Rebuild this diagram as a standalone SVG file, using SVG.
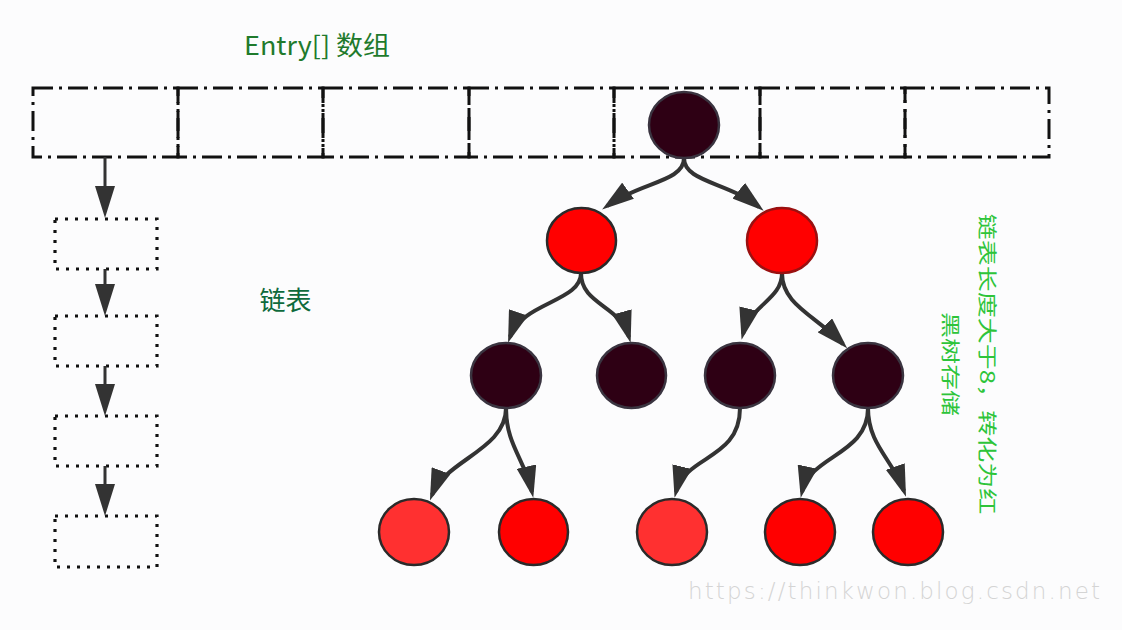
<svg xmlns="http://www.w3.org/2000/svg" width="1122" height="630" viewBox="0 0 1122 630">
<style>
.arr{fill:none;stroke:#111;stroke-width:3;stroke-dasharray:20 6 3 6}
.dot{fill:none;stroke:#111;stroke-width:3.2;stroke-dasharray:3 7}
.dark{fill:#2e0014;stroke:#3a3440;stroke-width:2.5}
.red{fill:#ff0000;stroke:#2a2a2a;stroke-width:2.5}
.lred{fill:#ff3030;stroke:#2a2a2a;stroke-width:2.5}
.conn{fill:none;stroke:#333;stroke-width:4}
.lconn{fill:none;stroke:#333;stroke-width:3}
.cjk{font-family:"Noto Sans CJK SC","Noto Sans",sans-serif}
</style>
<defs>
<marker id="ah" markerUnits="userSpaceOnUse" markerWidth="32" markerHeight="20" refX="26" refY="10" orient="auto">
<path d="M0,0 L32,10 L0,20 z" fill="#333"/>
</marker>
</defs>
<rect width="1122" height="630" fill="#fcfcfd"/>

<text class="cjk" x="317" y="55" font-size="26" fill="#1f7a2c" text-anchor="middle" textLength="146" lengthAdjust="spacingAndGlyphs">Entry[] 数组</text>

<g id="array">
<rect class="arr" x="33" y="88" width="145" height="69"/>
<rect class="arr" x="178" y="88" width="145" height="69"/>
<rect class="arr" x="323" y="88" width="146" height="69"/>
<rect class="arr" x="469" y="88" width="145" height="69"/>
<rect class="arr" x="614" y="88" width="146" height="69"/>
<rect class="arr" x="760" y="88" width="145" height="69"/>
<rect class="arr" x="905" y="88" width="144" height="69"/>
</g>

<g id="list1"><rect class="dot" x="55" y="219" width="102" height="50"/></g>
<g id="list2"><rect class="dot" x="55" y="316" width="102" height="50"/></g>
<g id="list3"><rect class="dot" x="55" y="416" width="102" height="50"/></g>
<g id="list4"><rect class="dot" x="55" y="516" width="102" height="51"/></g>

<text class="cjk" x="285.5" y="310" font-size="26" fill="#0f6a3c" text-anchor="middle">链表</text>

<g id="connectors">
<path class="lconn" d="M105,157 L105,212" marker-end="url(#ah)"/>
<path class="lconn" d="M105,269 L105,310" marker-end="url(#ah)"/>
<path class="lconn" d="M105,366 L105,410" marker-end="url(#ah)"/>
<path class="lconn" d="M105,466 L105,510" marker-end="url(#ah)"/>

<path class="conn" d="M684,158 C684,182 640,182 607,206" marker-end="url(#ah)"/>
<path class="conn" d="M684,158 C684,182 728,182 759,207" marker-end="url(#ah)"/>
<path class="conn" d="M581,273 C581,302 522,302 510,337" marker-end="url(#ah)"/>
<path class="conn" d="M581,273 C581,305 620,305 629,337" marker-end="url(#ah)"/>
<path class="conn" d="M782,273 C782,300 750,305 743,334" marker-end="url(#ah)"/>
<path class="conn" d="M782,273 C782,305 815,315 843,344" marker-end="url(#ah)"/>
<path class="conn" d="M506,408 C506,450 445,460 432,495" marker-end="url(#ah)"/>
<path class="conn" d="M506,408 C506,445 525,460 532,492" marker-end="url(#ah)"/>
<path class="conn" d="M740,408 C740,460 685,455 676,492" marker-end="url(#ah)"/>
<path class="conn" d="M868,408 C868,455 810,455 802,492" marker-end="url(#ah)"/>
<path class="conn" d="M868,408 C868,445 893,460 904,491" marker-end="url(#ah)"/>
</g>

<g id="root"><ellipse class="dark" cx="684" cy="125" rx="35" ry="33"/></g>
<g id="n1"><ellipse class="red" cx="581.5" cy="240.5" rx="34.5" ry="32.5"/></g>
<g id="n2"><ellipse class="red" cx="782" cy="240.5" rx="35" ry="32.5" style="stroke:#9a1010"/></g>
<g id="n3"><ellipse class="dark" cx="506" cy="375.5" rx="35" ry="32.5"/></g>
<g id="n4"><ellipse class="dark" cx="631.5" cy="375.5" rx="34.5" ry="32.5"/></g>
<g id="n5"><ellipse class="dark" cx="740" cy="375.5" rx="35" ry="32.5"/></g>
<g id="n6"><ellipse class="dark" cx="868" cy="375.5" rx="35" ry="32.5"/></g>
<g id="n7"><ellipse class="lred" cx="414" cy="532" rx="35" ry="33"/></g>
<g id="n8"><ellipse class="red" cx="533.5" cy="532" rx="34.5" ry="33"/></g>
<g id="n9"><ellipse class="lred" cx="672" cy="532" rx="35" ry="33"/></g>
<g id="n10"><ellipse class="red" cx="800" cy="532" rx="35" ry="33"/></g>
<g id="n11"><ellipse class="red" cx="908" cy="532" rx="35" ry="33"/></g>

<text class="cjk" transform="translate(988,364) rotate(90) scale(1,0.75)" font-size="26" fill="#2ec43a" text-anchor="middle" dominant-baseline="central"><tspan x="0" y="0">链表长度大于8，转化为红</tspan><tspan x="0" y="49">黑树存储</tspan></text>

<text x="688" y="599" font-family="DejaVu Sans, sans-serif" font-weight="200" font-size="23" fill="#d4d4d4" textLength="412" lengthAdjust="spacing">https://thinkwon.blog.csdn.net</text>
</svg>
